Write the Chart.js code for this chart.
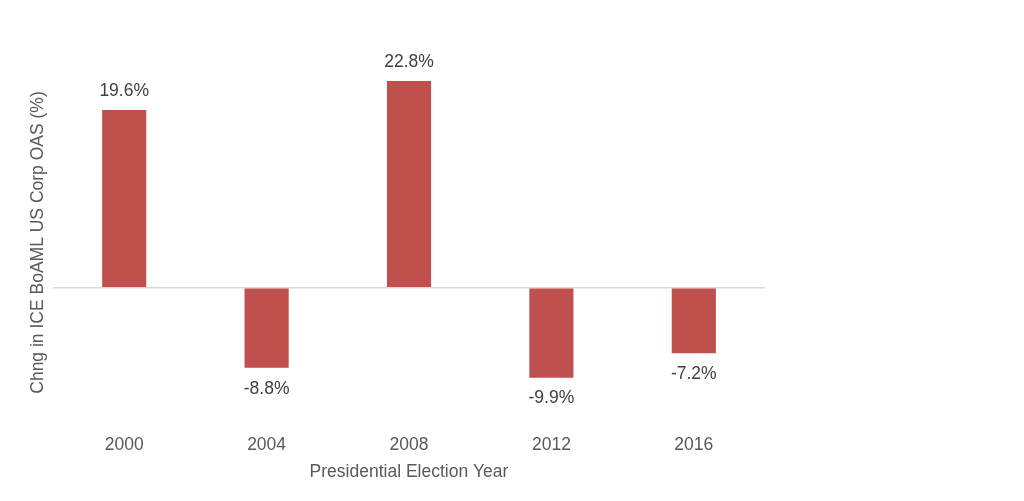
<!DOCTYPE html>
<html>
<head>
<meta charset="utf-8">
<script src="https://cdn.jsdelivr.net/npm/chart.js@4/dist/chart.umd.min.js"></script>
<style>
  html, body { margin: 0; padding: 0; background: #fff; }
  #wrap { width: 1024px; height: 501px; }
</style>
</head>
<body>
<div id="wrap"><canvas id="barChart"></canvas></div>
<script>
var years = ['2000', '2004', '2008', '2012', '2016'];
var oasChange = [19.6, -8.8, 22.8, -9.9, -7.2];
var yMin = -16;
var yMax = 26;

// labels above / below each bar
var valueLabels = {
    id: 'valueLabels',
    afterDatasetsDraw: function (chart) {
        var ctx = chart.ctx;
        var meta = chart.getDatasetMeta(0);
        ctx.save();
        ctx.font = '17.5px "Liberation Sans", Arial, sans-serif';
        ctx.fillStyle = '#404040';
        ctx.textAlign = 'center';
        ctx.textBaseline = 'middle';
        meta.data.forEach(function (bar, i) {
            var v = oasChange[i];
            var y = v >= 0 ? bar.y - 19 : bar.y + 21;
            ctx.fillText(v.toFixed(1) + '%', bar.x, y);
        });
        ctx.restore();
    }
};

Chart.defaults.font.family = '"Liberation Sans", Arial, sans-serif';
Chart.defaults.font.size = 17.5;
Chart.defaults.color = '#595959';

new Chart(document.getElementById('barChart').getContext('2d'), {
    type: 'bar',
    data: {
        labels: years,
        datasets: [{
            data: oasChange,
            backgroundColor: '#C0504D',
            borderWidth: 0,
            categoryPercentage: 1,
            barPercentage: 0.31
        }]
    },
    options: {
        responsive: true,
        maintainAspectRatio: false,
        animation: false,
        layout: { padding: { left: 24, right: 259, top: 52, bottom: 18 } },
        plugins: {
            legend: { display: false },
            tooltip: { enabled: false }
        },
        scales: {
            x: {
                grid: { display: false, drawTicks: false },
                border: { display: false },
                ticks: { padding: 2, color: '#595959' },
                title: {
                    display: true,
                    text: 'Presidential Election Year',
                    color: '#595959',
                    padding: { top: 4, bottom: 0 }
                }
            },
            y: {
                min: yMin,
                max: yMax,
                ticks: { display: false, stepSize: 2 },
                border: { display: false },
                grid: {
                    drawTicks: false,
                    lineWidth: 1.5,
                    color: function (c) { return c.tick && c.tick.value === 0 ? '#d9d9d9' : 'rgba(0,0,0,0)'; }
                },
                title: {
                    display: true,
                    text: 'Chng in ICE BoAML US Corp OAS (%)',
                    color: '#595959',
                    padding: { top: 4, bottom: 4 }
                }
            }
        }
    },
    plugins: [valueLabels]
});
</script>
</body>
</html>
